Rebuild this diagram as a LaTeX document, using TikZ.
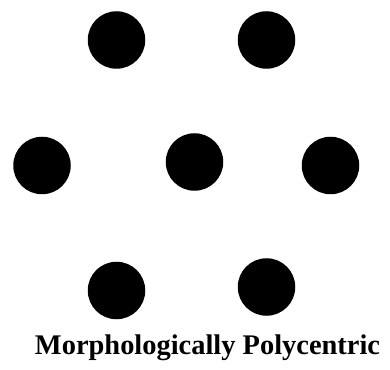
\documentclass[tikz,border=0pt]{standalone}
\usepackage{fontspec}
\setmainfont{Liberation Serif}
\begin{document}
\begin{tikzpicture}[x=1pt,y=1pt,
  dot/.style={circle,fill=black,inner sep=0pt,minimum size=57.5pt}]
\useasboundingbox (0,0) rectangle (390,369);
\node[dot] (d1) at (116.5,329) {};
\node[dot] (d2) at (266.5,329) {};
\node[dot] (d3) at (42,203.5) {};
\node[dot] (d4) at (194.5,207) {};
\node[dot] (d5) at (330.5,203.5) {};
\node[dot] (d6) at (116.5,78.5) {};
\node[dot] (d7) at (266.5,82) {};
\node[anchor=base,inner sep=0pt] (lbl) at (207.5,14.5) {\resizebox{345pt}{!}{\bfseries Morphologically Polycentric}};
\end{tikzpicture}
\end{document}
